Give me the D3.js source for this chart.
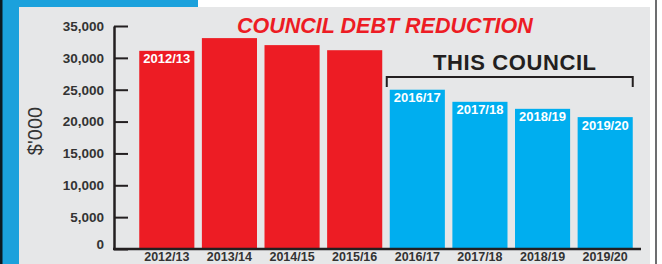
<!doctype html>
<html lang="en">
<head>
<meta charset="utf-8">
<title>Council Debt Reduction</title>
<script src="https://cdn.jsdelivr.net/npm/d3@7"></script>
<style>
  html, body { margin: 0; padding: 0; background: #fff; }
  svg { display: block; }
  text { font-family: "Liberation Sans", Arial, sans-serif; }
  .ytick text { font-size: 13.5px; font-weight: bold; fill: #333; }
</style>
</head>
<body>
<svg id="chart" width="662" height="264"></svg>
<script>
// data ($'000)
var years = ["2012/13", "2013/14", "2014/15", "2015/16", "2016/17", "2017/18", "2018/19", "2019/20"];
var debt = [31100, 33100, 32000, 31200, 25000, 23100, 22000, 20700];
var thisCouncil = ["2016/17", "2017/18", "2018/19", "2019/20"];
var labelledBars = ["2012/13", "2016/17", "2017/18", "2018/19", "2019/20"];
var yTicks = [0, 5000, 10000, 15000, 20000, 25000, 30000, 35000];

var RED = "#ed1c24", BLUE = "#00aeef", FRAME = "#1ba1dc", INK = "#231f20";

var svg = d3.select("#chart");

// frame + panel
svg.append("rect").attr("x", 0).attr("y", 0).attr("width", 198).attr("height", 8).attr("fill", FRAME);
svg.append("rect").attr("x", 0).attr("y", 0).attr("width", 19).attr("height", 264).attr("fill", FRAME);
svg.append("rect").attr("x", 0).attr("y", 0).attr("width", 2.5).attr("height", 264).attr("fill", "#0b1a22");
svg.append("rect").attr("x", 19).attr("y", 7).attr("width", 631).attr("height", 257).attr("fill", "#e6e7e8");
svg.append("rect").attr("x", 655).attr("y", 0).attr("width", 2).attr("height", 264).attr("fill", "#6d6e70");

var x = d3.scaleBand().domain(years).range([135.5, 636.5]).paddingInner(0.12).paddingOuter(0.06);
var y = d3.scaleLinear().domain([0, 35000]).range([249, 26]);

// bars
svg.selectAll("rect.bar").data(years).enter().append("rect")
  .attr("class", "bar")
  .attr("x", function(d) { return x(d); })
  .attr("y", function(d, i) { return y(debt[i]); })
  .attr("width", x.bandwidth())
  .attr("height", function(d, i) { return y(0) - y(debt[i]); })
  .attr("fill", function(d) { return thisCouncil.indexOf(d) >= 0 ? BLUE : RED; });

// labels inside bars
svg.selectAll("text.inlabel").data(years.filter(function(d) { return labelledBars.indexOf(d) >= 0; }))
  .enter().append("text")
  .attr("class", "inlabel")
  .attr("x", function(d) { return x(d) + x.bandwidth() / 2; })
  .attr("y", function(d) { return y(debt[years.indexOf(d)]) + 12.5; })
  .attr("text-anchor", "middle")
  .attr("font-size", 13)
  .attr("font-weight", "bold")
  .attr("fill", "#fff")
  .text(function(d) { return d; });

// y axis (ticks point inward)
var yAxis = d3.axisLeft(y).tickValues(yTicks).tickSizeInner(-14).tickSizeOuter(0).tickPadding(10)
  .tickFormat(d3.format(","));
var gy = svg.append("g").attr("class", "ytick").attr("transform", "translate(114,0)").call(yAxis);
gy.select(".domain").attr("stroke", INK).attr("stroke-width", 2.5);
gy.selectAll(".tick line").attr("stroke", INK).attr("stroke-width", 2);
gy.selectAll(".tick text").attr("dy", function(d) { return d === 0 ? "-0.05em" : "0.32em"; });

// baseline
svg.append("line").attr("x1", 113).attr("x2", 641).attr("y1", y(0)).attr("y2", y(0))
  .attr("stroke", INK).attr("stroke-width", 2.5);

// x labels
svg.selectAll("text.xlabel").data(years).enter().append("text")
  .attr("class", "xlabel")
  .attr("x", function(d) { return x(d) + x.bandwidth() / 2; })
  .attr("y", 261)
  .attr("text-anchor", "middle")
  .attr("font-size", 12.5)
  .attr("font-weight", "bold")
  .attr("fill", "#333")
  .text(function(d) { return d; });

// y title
svg.append("text")
  .attr("transform", "translate(42,131) rotate(-90)")
  .attr("text-anchor", "middle")
  .attr("font-size", 20)
  .attr("fill", "#333")
  .text("$'000");

// title
svg.append("text")
  .attr("x", 237).attr("y", 33)
  .attr("font-size", 21.5)
  .attr("font-weight", "bold")
  .attr("font-style", "italic")
  .attr("fill", RED)
  .text("COUNCIL DEBT REDUCTION");

// "this council" bracket
var bx0 = x(thisCouncil[0]) - 3, bx1 = x(thisCouncil[thisCouncil.length - 1]) + x.bandwidth();
svg.append("path")
  .attr("d", "M" + bx0 + ",87V77H" + bx1 + "V87")
  .attr("fill", "none").attr("stroke", INK).attr("stroke-width", 2);
svg.append("text")
  .attr("x", 433).attr("y", 70)
  .attr("font-size", 22)
  .attr("font-weight", "bold")
  .attr("letter-spacing", 0.6)
  .attr("fill", INK)
  .text("THIS COUNCIL");
</script>
</body>
</html>
